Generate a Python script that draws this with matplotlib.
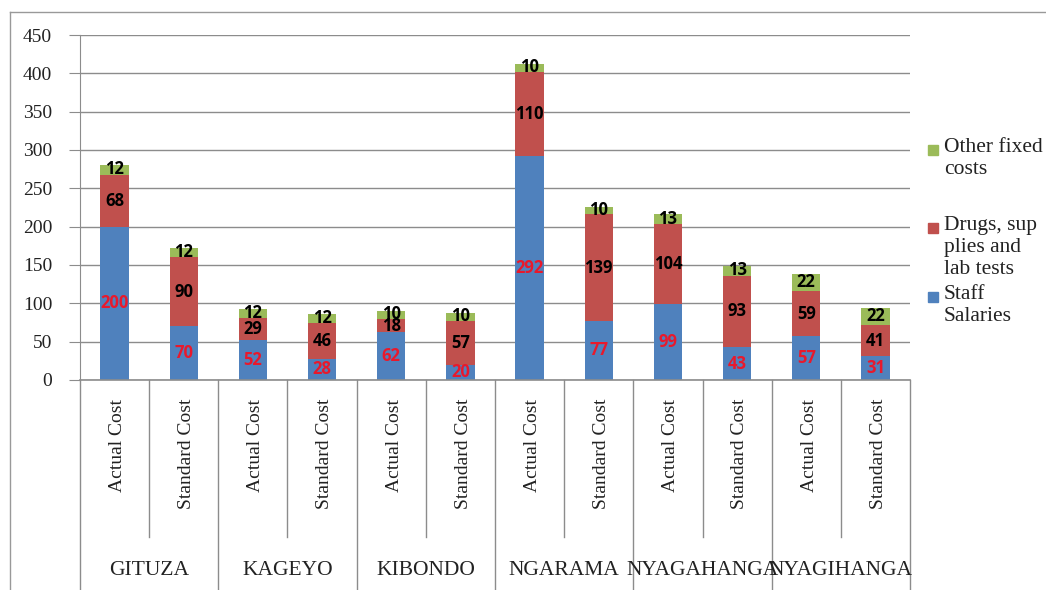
import matplotlib
matplotlib.use("Agg")
import matplotlib.pyplot as plt
import numpy as np
from matplotlib.lines import Line2D
from matplotlib.patches import Rectangle
import matplotlib.transforms as mtransforms

groups = ["GITUZA", "KAGEYO", "KIBONDO", "NGARAMA", "NYAGAHANGA", "NYAGIHANGA"]
sub_labels = ["Actual Cost", "Standard Cost"]
staff = [200, 70, 52, 28, 62, 20, 292, 77, 99, 43, 57, 31]
drugs = [68, 90, 29, 46, 18, 57, 110, 139, 104, 93, 59, 41]
other = [12, 12, 12, 12, 10, 10, 10, 10, 13, 13, 22, 22]

C_STAFF = "#4F81BD"
C_DRUGS = "#C0504D"
C_OTHER = "#9BBB59"
GRID = "#8C8C8C"
SERIF = "Liberation Serif"
LABEL_FONT = ["Open Sans", "DejaVu Sans"]

W, H = 1046, 590
fig = plt.figure(figsize=(W / 100, H / 100), dpi=100)
ax = fig.add_axes([80 / W, 1 - 380 / H, 830 / W, 345 / H])

x = np.arange(len(staff))
staff = np.array(staff); drugs = np.array(drugs); other = np.array(other)
bw = 0.41
ax.bar(x, staff, bw, color=C_STAFF, zorder=3)
ax.bar(x, drugs, bw, bottom=staff, color=C_DRUGS, zorder=3)
ax.bar(x, other, bw, bottom=staff + drugs, color=C_OTHER, zorder=3)

# data labels (small segments sit tight, as in the original)
for i in range(len(x)):
    ax.text(x[i], staff[i] / 2, str(staff[i]), ha="center", va="center",
            color="#E8192C", fontsize=12, fontweight="bold", family=LABEL_FONT, zorder=4)
    ax.text(x[i], staff[i] + drugs[i] / 2, str(drugs[i]), ha="center", va="center",
            color="black", fontsize=12, fontweight="bold", family=LABEL_FONT, zorder=4)
    ax.text(x[i], staff[i] + drugs[i] + other[i] / 2 + 1, str(other[i]), ha="center", va="center",
            color="black", fontsize=12, fontweight="bold", family=LABEL_FONT, zorder=4)

ax.set_xlim(-0.5, len(x) - 0.5)
ax.set_ylim(0, 450)
ax.set_yticks(np.arange(0, 451, 50))
ax.yaxis.grid(True, color=GRID, lw=1, zorder=0)
ax.set_xticks([])
for s in ["top", "right", "bottom"]:
    ax.spines[s].set_visible(False)
ax.spines["left"].set_color(GRID)
ax.tick_params(axis="y", length=8, color=GRID, pad=12, labelsize=14)
for lab in ax.get_yticklabels():
    lab.set_family(SERIF)
    lab.set_color("#222222")

# category axis below (two levels)
trans = mtransforms.blended_transform_factory(ax.transData, ax.transAxes)
ax.plot([-0.5, len(x) - 0.5], [0, 0], color=GRID, lw=1.2, transform=trans, clip_on=False, zorder=5)
for i in range(len(x)):
    ax.text(x[i] + 0.04, -0.055, sub_labels[i % 2], rotation=90, ha="center", va="top",
            fontsize=14, family=SERIF, color="#222222", transform=trans)
for g in range(len(groups) + 1):
    xb = g * 2 - 0.5
    ax.plot([xb, xb], [0, -0.62], color=GRID, lw=1, transform=trans, clip_on=False)
for g in range(len(groups)):
    xb = g * 2 + 0.5
    ax.plot([xb, xb], [0, -0.455], color=GRID, lw=1, transform=trans, clip_on=False)
    ax.text(g * 2 + 0.5, -0.551, groups[g], ha="center", va="center",
            fontsize=15.5, family=SERIF, color="#222222", transform=trans)

# legend
legend_items = [("Other fixed\ncosts", C_OTHER, 150),
                ("Drugs, sup\nplies and\nlab tests", C_DRUGS, 228),
                ("Staff\nSalaries", C_STAFF, 297)]
for txt, col, ypx in legend_items:
    fig.patches.append(Rectangle((928 / W, 1 - (ypx + 5) / H), 10 / W, 10 / H,
                                 color=col, transform=fig.transFigure))
    fig.text(944 / W, 1 - (ypx - 12) / H, txt, ha="left", va="top", fontsize=15.5,
             family=SERIF, color="#222222", linespacing=1.22)

# outer frame
fig.add_artist(Line2D([10 / W, 10 / W], [0, 1 - 12 / H], color="#999999", lw=1, transform=fig.transFigure))
fig.add_artist(Line2D([10 / W, 1], [1 - 12 / H, 1 - 12 / H], color="#999999", lw=1, transform=fig.transFigure))

fig.savefig("out.png", dpi=100)
